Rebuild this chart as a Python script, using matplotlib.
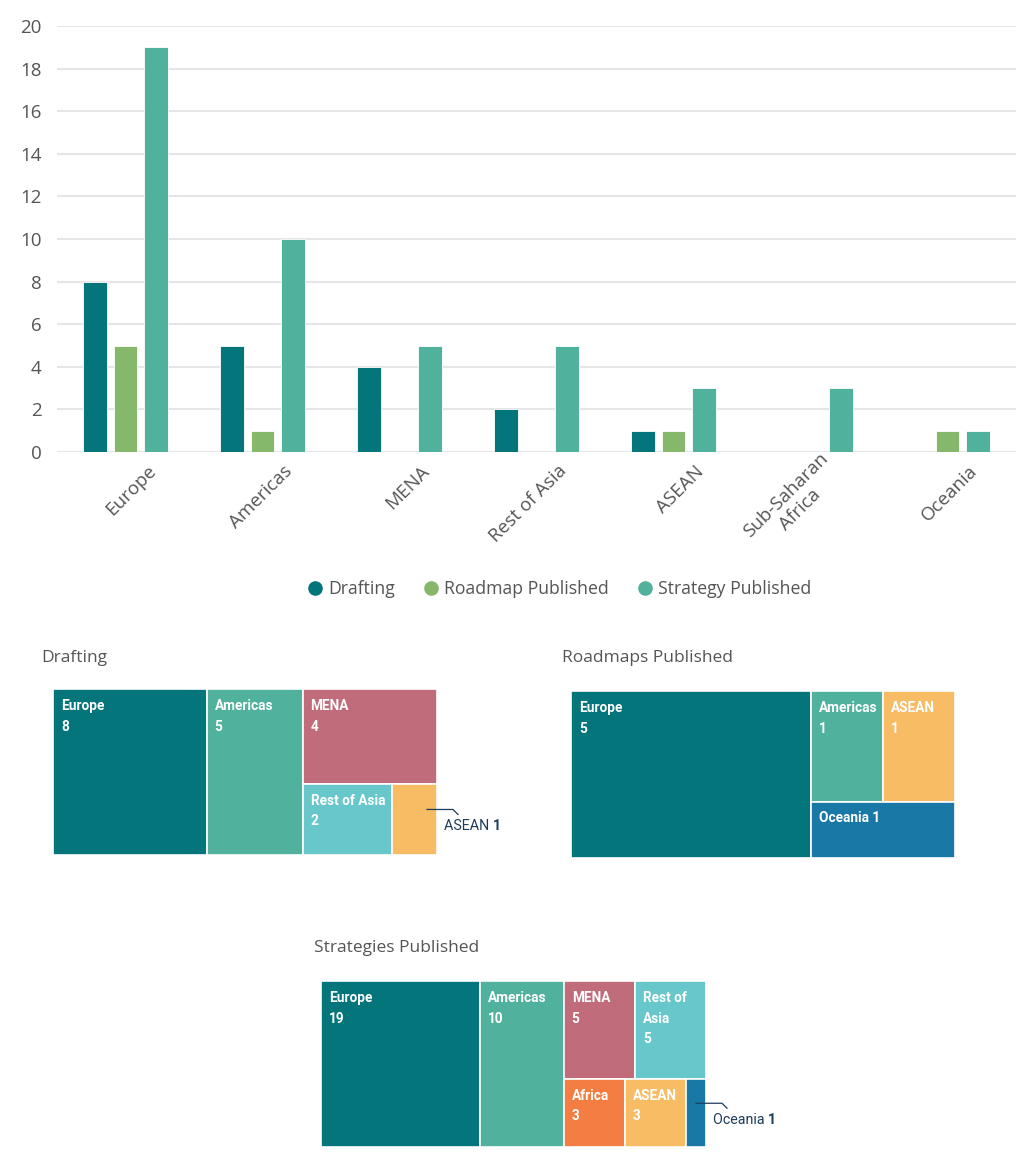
import matplotlib
matplotlib.use("Agg")
import matplotlib.pyplot as plt
import matplotlib.transforms as mtransforms
from matplotlib.lines import Line2D
from matplotlib.patches import Rectangle
import numpy as np

# ---------------- data ----------------
regions = ["Europe", "Americas", "MENA", "Rest of Asia", "ASEAN", "Sub-Saharan\nAfrica", "Oceania"]
drafting = [8, 5, 4, 2, 1, 0, 0]
roadmap = [5, 1, 0, 0, 1, 0, 1]
strategy = [19, 10, 5, 5, 3, 3, 1]
series_names = ["Drafting", "Roadmap Published", "Strategy Published"]
yticks = [0, 2, 4, 6, 8, 10, 12, 14, 16, 18, 20]

tm_draft_names = ["Europe", "Americas", "MENA", "Rest of Asia", "ASEAN"]
tm_draft_vals = [8, 5, 4, 2, 1]
tm_road_names = ["Europe", "Americas", "ASEAN", "Oceania"]
tm_road_vals = [5, 1, 1, 1]
tm_strat_names = ["Europe", "Americas", "MENA", "Rest of Asia", "Africa", "ASEAN", "Oceania"]
tm_strat_vals = [19, 10, 5, 5, 3, 3, 1]

# ---------------- style ----------------
series_colors = ["#04757B", "#86B86B", "#50B19D"]
region_colors = {"Europe": "#04757B", "Americas": "#50B19D", "MENA": "#C16C7A",
                 "Rest of Asia": "#67C7CB", "ASEAN": "#F8BC65", "Oceania": "#1A78A6",
                 "Africa": "#F47D42"}
TXT = "#555555"
NAVY = "#1d3c5a"
FONT = ["Open Sans", "DejaVu Sans"]
LBLFONT = ["Roboto", "DejaVu Sans"]
plt.rcParams["font.family"] = FONT

W, H = 1022, 1164
fig = plt.figure(figsize=(W / 100, H / 100), dpi=100)


def px_axes(x0, y0, x1, y1):
    return fig.add_axes([x0 / W, 1 - y1 / H, (x1 - x0) / W, (y1 - y0) / H])


# ---------------- bar chart ----------------
ax = px_axes(57, 26, 1016, 452)
x = np.arange(len(regions))
bw, step = 0.175, 0.223
for i, (vals, c) in enumerate(zip([drafting, roadmap, strategy], series_colors)):
    ax.bar(x + (i - 1) * step, vals, width=bw, color=c, edgecolor="white", linewidth=0.6, zorder=3)
ax.set_xlim(-0.5, len(regions) - 0.5)
ax.set_ylim(0, 20)
ax.set_yticks(yticks)
ax.yaxis.grid(True, color="#e6e6e6", linewidth=1.5, zorder=0)
ax.set_axisbelow(True)
for s in ax.spines.values():
    s.set_visible(False)
ax.tick_params(axis="y", length=0, pad=11, labelsize=13.5, labelcolor=TXT)
ax.tick_params(axis="x", length=0, pad=0, labelsize=13.5, labelcolor=TXT)
ax.set_xticks(x)
ax.set_xticklabels(regions, rotation=45, ha="right", va="baseline",
                   rotation_mode="anchor", multialignment="center")
off = mtransforms.ScaledTranslation(0.31, -0.20, fig.dpi_scale_trans)
for lab in ax.get_xticklabels():
    lab.set_transform(lab.get_transform() + off)

handles = [Line2D([], [], marker="o", linestyle="none", markersize=9.5, color=c) for c in series_colors]
fig.legend(handles, series_names, loc="center", bbox_to_anchor=(560 / W, 1 - 589 / H), ncol=3,
           frameon=False, fontsize=12.7, handlelength=0.7, handletextpad=0.4, columnspacing=1.7,
           labelcolor=TXT)


# ---------------- treemaps ----------------
def node_sum(node, vals):
    if isinstance(node, int):
        return vals[node]
    return sum(node_sum(n, vals) for n in node)


def layout(node, vals, x0, y0, w, h, horizontal, out):
    if isinstance(node, int):
        out[node] = (x0, y0, w, h)
        return
    tot = node_sum(node, vals)
    pos = 0.0
    for n in node:
        frac = node_sum(n, vals) / tot
        if horizontal:
            layout(n, vals, x0 + pos * w, y0, frac * w, h, not horizontal, out)
        else:
            layout(n, vals, x0, y0 + pos * h, w, frac * h, not horizontal, out)
        pos += frac


def treemap(rect, title, title_xy, names, vals, struct, modes, disp):
    x0, y0, x1, y1 = rect
    tw, th = x1 - x0, y1 - y0
    a = px_axes(x0, y0, x1, y1)
    a.set_xlim(0, tw)
    a.set_ylim(th, 0)
    a.axis("off")
    cells = {}
    layout(struct, vals, 0, 0, tw, th, True, cells)
    a.add_patch(Rectangle((0, 0), tw, th, facecolor="none", edgecolor="#c9dde0", linewidth=1.2, zorder=1))
    for i, name in enumerate(names):
        cx, cy, cw, ch = cells[i]
        a.add_patch(Rectangle((cx, cy), cw, ch, facecolor=region_colors[name],
                              edgecolor="white", linewidth=1.2, zorder=2))
        mode = modes[i]
        label = disp[i]
        if mode == "stack":
            a.text(cx + 8, cy + 10, f"{label}\n{vals[i]}", color="white", fontsize=9.8,
                   fontweight="bold", family=LBLFONT, va="top", ha="left", linespacing=1.6, zorder=3)
        elif mode == "inline":
            a.text(cx + 8, cy + 16, f"{label} {vals[i]}", color="white", fontsize=9.8,
                   fontweight="bold", family=LBLFONT, va="center", ha="left", zorder=3)
        else:
            r = cx + cw
            ly = cy + 0.36 * ch
            a.plot([r - 10, r + 16, r + 21], [ly, ly, ly + 5], color=NAVY, lw=0.9,
                   clip_on=False, zorder=4)
            t1 = a.text(r + 7, ly + 17, f"{label} ", color=NAVY, fontsize=10.3, family=LBLFONT,
                        va="center", ha="left", zorder=4)
            a.annotate(f"{vals[i]}", xy=(1, 0.5), xycoords=t1, color=NAVY, fontsize=10.3,
                       fontweight="bold", family=LBLFONT, va="center", ha="left",
                       annotation_clip=False)
    fig.text(title_xy[0] / W, 1 - title_xy[1] / H, title, fontsize=12.5, color=TXT, va="center", ha="left")


treemap((53, 689, 437, 855), "Drafting", (41, 658), tm_draft_names, tm_draft_vals,
        [0, 1, [2, [3, 4]]], ["stack", "stack", "stack", "stack", "out"],
        ["Europe", "Americas", "MENA", "Rest of Asia", "ASEAN"])
treemap((571, 691, 955, 858), "Roadmaps Published", (562, 658), tm_road_names, tm_road_vals,
        [0, [[1, 2], 3]], ["stack", "stack", "stack", "inline"],
        ["Europe", "Americas", "ASEAN", "Oceania"])
treemap((321, 981, 706, 1147), "Strategies Published", (314, 948), tm_strat_names, tm_strat_vals,
        [0, 1, [[2, 3], [4, 5, 6]]], ["stack", "stack", "stack", "stack", "stack", "stack", "out"],
        ["Europe", "Americas", "MENA", "Rest of\nAsia", "Africa", "ASEAN", "Oceania"])

fig.savefig("out.png", dpi=100, facecolor="white")
